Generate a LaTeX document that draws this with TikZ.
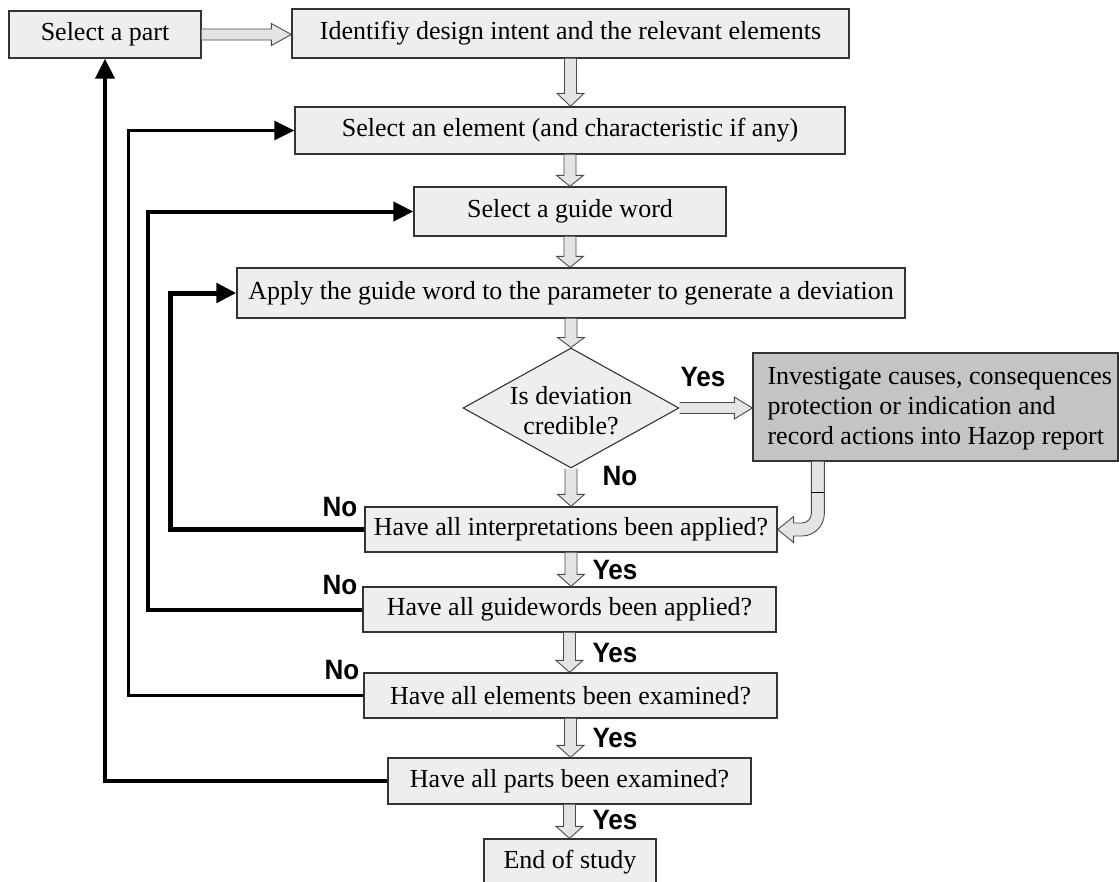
\documentclass[tikz,border=0pt]{standalone}
\usepackage{fontspec}
\setmainfont{Liberation Serif}
\newfontfamily\lblfont{Liberation Sans}
\usetikzlibrary{shapes.geometric,arrows.meta,calc}

\definecolor{boxfill}{HTML}{EEEEEE}
\definecolor{boxline}{HTML}{333333}
\definecolor{actfill}{HTML}{C4C4C4}
\definecolor{arrfill}{HTML}{E4E4E4}
\definecolor{arrline}{HTML}{4A4A4A}

\newcommand\lblyes{\scalebox{0.93}[1]{Yes}}
\newcommand\lblno{\scalebox{0.93}[1]{No}}

% hollow block arrow pointing down, from the bottom of #2 to the top of #3
\newcommand\downarr[3][11]{%
  \path[hollow] let \p1=(#2.south), \p2=(#3.north) in
    (\x1-6pt,\y1) -- (\x1-6pt,\y2+#1pt) -- (\x1-13.5pt,\y2+#1pt) -- (\x1,\y2)
    -- (\x1+13.5pt,\y2+#1pt) -- (\x1+6pt,\y2+#1pt) -- (\x1+6pt,\y1);}
% hollow block arrow pointing right, from the right side of #2 to the left side of #3
\newcommand\rightarr[3][20]{%
  \path[hollow] let \p1=(#2.east), \p2=(#3.west) in
    (\x1,\y1+5.5pt) -- (\x2-#1pt,\y1+5.5pt) -- (\x2-#1pt,\y1+11pt) -- (\x2,\y1)
    -- (\x2-#1pt,\y1-11pt) -- (\x2-#1pt,\y1-5.5pt) -- (\x1,\y1-5.5pt);}

\tikzset{
  stepbox/.style={draw=boxline, fill=boxfill, line width=1.3pt, inner sep=0pt,
    font=\fontsize{26}{30}\selectfont},
  actbox/.style={draw=boxline, fill=actfill, line width=1.3pt, inner sep=0pt},
  acttext/.style={align=left, inner sep=0pt, font=\fontsize{26}{30}\selectfont},
  decision/.style={diamond, draw=boxline, fill=boxfill, line width=1.1pt, inner sep=0pt,
    minimum width=216pt, minimum height=120pt},
  dtext/.style={align=center, inner sep=0pt, font=\fontsize{26}{30}\selectfont},
  lbl/.style={inner sep=0pt, font=\lblfont\bfseries\fontsize{28}{30}\selectfont},
  hollow/.style={draw=arrline, fill=arrfill, line width=0.9pt, line join=miter},
  loop/.style={draw=black, line join=miter, -{Triangle[length=20pt,width=19pt]}},
}

\begin{document}
\begin{tikzpicture}[x=1pt, y=-1pt]
\useasboundingbox (0,0) rectangle (1119,881);

% process boxes
\node[stepbox, minimum width=192pt, minimum height=47pt] (part)   at (105,34.5)  {Select a part};
\node[stepbox, minimum width=557pt, minimum height=49pt] (ident)  at (570.5,33.5) {Identifiy design intent and the relevant elements};
\node[stepbox, minimum width=550pt, minimum height=47pt] (selel)  at (570,130.5) {Select an element (and characteristic if any)};
\node[stepbox, minimum width=312pt, minimum height=49pt] (selgw)  at (570,211.5) {Select a guide word};
\node[stepbox, minimum width=668pt, minimum height=50pt] (apply)  at (571,293)   {Apply the guide word to the parameter to generate a deviation};
\node[decision] (dev) at (571,408) {};
\node[dtext] (devtxt) at (571,411) {Is deviation\\credible?};
\node[actbox, minimum width=365pt, minimum height=108pt] (grey) at (935.5,407) {};
\node[acttext, anchor=west] (greytxt) at ($(grey.west)+(15,2)$)
  {Investigate causes, consequences\\protection or indication and\\record actions into Hazop report};
\node[stepbox, minimum width=412pt, minimum height=45pt] (interp) at (571,529.5) {Have all interpretations been applied?};
\node[stepbox, minimum width=413pt, minimum height=45pt] (guidew) at (569.5,609.5) {Have all guidewords been applied?};
\node[stepbox, minimum width=413pt, minimum height=45pt] (elem)   at (570.5,695.5) {Have all elements been examined?};
\node[stepbox, minimum width=363pt, minimum height=46pt] (parts)  at (569.5,781)  {Have all parts been examined?};
\node[stepbox, minimum width=172pt, minimum height=46pt] (endst)  at (570,862)    {End of study};

% forward flow
\rightarr[20]{part}{ident}
\downarr[13]{ident}{selel}
\downarr[11]{selel}{selgw}
\downarr[11]{selgw}{apply}
\downarr[10]{apply}{dev}
\rightarr[18]{dev}{grey}
\downarr[12]{dev}{interp}
\downarr[12]{interp}{guidew}
\downarr[12]{guidew}{elem}
\downarr[12]{elem}{parts}
\downarr[12]{parts}{endst}

% bent arrow back from the action box
\path[hollow] let \p1=($(grey.south west)+(65.5,0)$), \p2=(interp.east) in
  (\x1-6.5pt,\y1) -- (\x1-6.5pt,\y2+16pt)
  .. controls (\x1-6.5pt,\y2+10.75pt) and (\x1-10.75pt,\y2+6.5pt) .. (\x1-16pt,\y2+6.5pt)
  -- (\x2+16pt,\y2+6.5pt) -- (\x2+16pt,\y2+13pt) -- (\x2,\y2)
  -- (\x2+16pt,\y2-13pt) -- (\x2+16pt,\y2-6.5pt) -- (\x1-16pt,\y2-6.5pt)
  .. controls (\x1-3.57pt,\y2-6.5pt) and (\x1+6.5pt,\y2+3.57pt) .. (\x1+6.5pt,\y2+16pt)
  -- (\x1+6.5pt,\y1);
\draw[black, line width=1.3pt] let \p1=($(grey.south west)+(65.5,0)$) in
  (\x1-6.5pt,\y1-31pt) -- (\x1+6.5pt,\y1-31pt);

% return loops
\coordinate (lx2) at (128,0);
\coordinate (lx3) at (148,0);
\coordinate (lx4) at (170,0);
\draw[loop, line width=4pt] (parts.west) -| (part.south);
\draw[loop, line width=3pt] (elem.west) -- (elem.west -| lx2) |- (selel.west);
\draw[loop, line width=4pt] (guidew.west) -- (guidew.west -| lx3) |- (selgw.west);
\draw[loop, line width=5pt] (interp.west) -- (interp.west -| lx4) |- (apply.west);

% branch labels
\node[lbl] (ydev) at (703,377) {\lblyes};
\node[lbl] (ndev) at (620,476) {\lblno};
\node[lbl] (nint) at (340,507) {\lblno};
\node[lbl] (yint) at (615,570) {\lblyes};
\node[lbl] (ngw)  at (340,585) {\lblno};
\node[lbl] (ygw)  at (615,653) {\lblyes};
\node[lbl] (nel)  at (342,670) {\lblno};
\node[lbl] (yel)  at (615,738) {\lblyes};
\node[lbl] (ypt)  at (615,820) {\lblyes};
\end{tikzpicture}
\end{document}
